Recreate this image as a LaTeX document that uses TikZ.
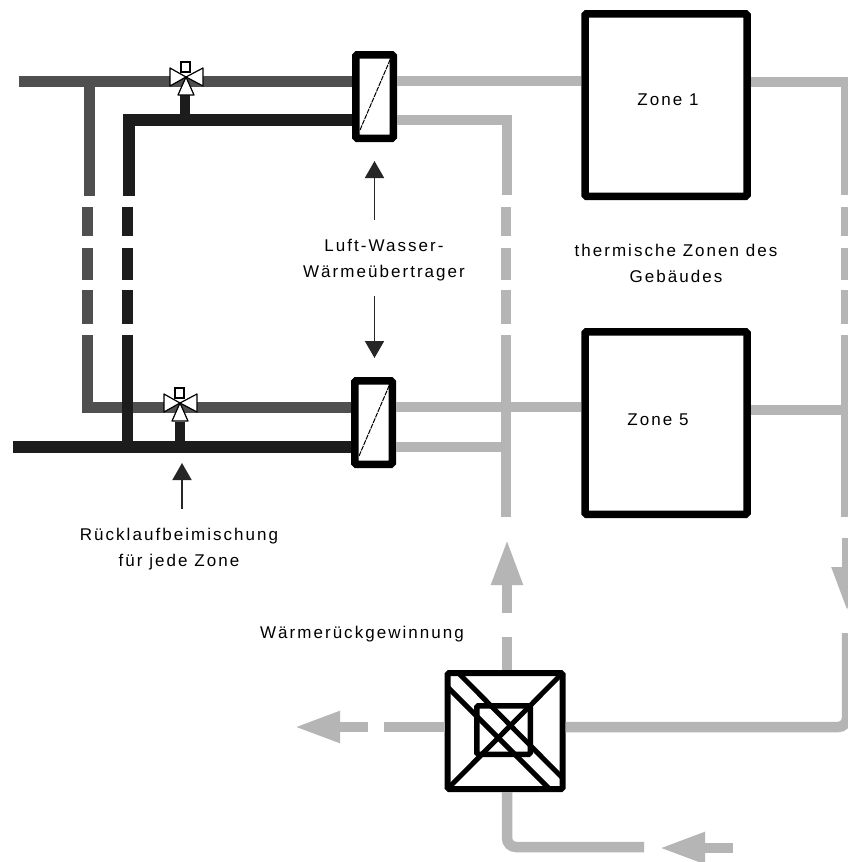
\documentclass[tikz,border=0pt]{standalone}
\usepackage{fontspec}
\setmainfont[LetterSpace=12]{Liberation Sans}
\usetikzlibrary{positioning,arrows.meta}

\definecolor{pipegreycol}{gray}{0.31}
\definecolor{pipeblackcol}{gray}{0.11}
\definecolor{pipelightcol}{gray}{0.71}

\tikzset{
  pipegrey/.style={draw=pipegreycol, line width=11pt},
  pipeblack/.style={draw=pipeblackcol, line width=11.5pt},
  pipelight/.style={draw=pipelightcol, line width=10.5pt},
  brokengrey/.style={dash pattern=on 29pt off 12pt on 32pt off 10pt on 34pt off 11pt on 400pt},
  brokenlight/.style={dash pattern=on 29pt off 12pt on 32pt off 10pt on 34pt off 11pt on 182pt off 400pt},
  box/.style={draw=black, rectangle, inner sep=0pt, rounded corners=1.5pt},
  hexchanger/.style={box, line width=7.5pt, minimum width=37.5pt, minimum height=83.5pt},
  zonebox/.style={box, line width=7.5pt, minimum width=162pt, minimum height=182.5pt},
  wrgline/.style={draw=black, line width=5pt, shorten <=3pt, shorten >=3pt},
  callout/.style={draw=black!85, line width=1.8pt, -{Triangle[length=17pt,width=19pt]}},
  lighttip/.style={-{Triangle[length=46pt,width=29pt]}},
  txt/.style={font=\fontsize{17}{26}\selectfont, align=center, inner sep=0pt},
  valve/.pic={
    \draw[fill=white, line width=1.2pt, line join=round] (-16,-9) -- (-16,9) -- (0,0) -- cycle;
    \draw[fill=white, line width=1.2pt, line join=round] (17,-9) -- (17,9) -- (0,0) -- cycle;
    \draw[fill=white, line width=1.2pt, line join=round] (-8,18) -- (8,18) -- (0,0) -- cycle;
    \draw[fill=white, line width=1.2pt] (-5,-15) rectangle (4,-5);
  }
}

\begin{document}
\begin{tikzpicture}[x=1pt, y=-1pt, >=Latex]
  \clip (0,0) rectangle (848,862);
  \fill[white] (0,0) rectangle (848,862);

  % boxes
  \node[hexchanger] (hxa) at (374.5,96.5) {};
  \node[hexchanger, below=235pt of hxa, xshift=-1pt] (hxb) {};
  \node[zonebox] (zone1) at (666,105) {};
  \node[zonebox, below=128pt of zone1] (zone5) {};
  \node[box, line width=6pt, minimum width=115pt, minimum height=116pt] (wrg) at (505,731) {};
  \node[box, line width=5.5pt, minimum width=53.5pt, minimum height=48.5pt] (wrgcore) at (503.5,730) {};

  % coordinates of the pipes
  \coordinate (flowa) at (19,81);
  \coordinate (flowb) at (82,407);
  \coordinate (backa) at (129,120);
  \coordinate (backb) at (13,447);
  \coordinate (riseg) at (89,81);
  \coordinate (ventl) at (507,120);
  \coordinate (ventr) at (846,82);
  \coordinate (valvea) at (186,77);
  \coordinate (valveb) at (180,403);

  % supply side
  \draw[pipegrey] (flowa) -- (hxa.west |- flowa);
  \draw[pipegrey] (riseg) -- (89,196);
  \draw[pipegrey, brokengrey] (87.5,207) -- (87.5,407) -- (hxb.west |- flowb);
  \draw[pipeblack] (hxa.west |- backa) -- (backa) -- (129,196);
  \draw[pipeblack, brokengrey] (127.5,207) -- (127.5,447);
  \draw[pipeblack] (backb) -- (hxb.west |- backb);
  \draw[pipeblack, line width=10pt] (valvea) ++(-1,18) -- (185,120);
  \draw[pipeblack, line width=10pt] (valveb) ++(0,19) -- (180,447);

  % air side
  \draw[pipelight] (hxa.east |- flowa) -- (zone1.west |- flowa);
  \draw[pipelight] (hxa.east |- ventl) -- (ventl) -- (507,195);
  \draw[pipelight, brokenlight] (506,207) -- (506,600);
  \draw[pipelight] (hxb.east |- flowb) -- (zone5.west |- flowb);
  \draw[pipelight] (hxb.east |- backb) -- (506,447);
  \draw[pipelight] (zone1.east |- ventr) -- (ventr) -- (846,195);
  \draw[pipelight, brokenlight] (846,207) -- (846,600);
  \draw[pipelight] (zone5.east |- 0,410) -- (846,410);

  % heat recovery
  \draw[pipelight] (507,670) -- (507,637);
  \draw[pipelight, lighttip] (507,613) -- (507,539);
  \draw[pipelight] (wrg.east |- 0,727) [rounded corners=9pt] -- (847,727) -- (847,633);
  \draw[pipelight, -{Triangle[length=45pt,width=28pt]}] (847,538) -- (847,612);
  \draw[pipelight] (wrg.west |- 0,727) -- (384,727);
  \draw[pipelight, lighttip] (368,727) -- (294,727);
  \draw[pipelight] (507,792) [rounded corners=9pt] -- (507,847) -- (644,847);
  \draw[pipelight, lighttip] (733,848) -- (659,848);

  \draw[wrgline] (wrg.north east) -- (wrg.south west);
  \draw[wrgline] ([yshift=-14pt]wrg.north west) -- ([xshift=-13pt]wrg.south east);
  \draw[wrgline] ([xshift=11pt]wrg.north west) -- ([yshift=11pt]wrg.south east);

  % inside the exchangers
  \draw[line width=1pt, dash pattern=on 5pt off 1pt] ([shift={(8pt,12pt)}]hxa.south west) -- ([shift={(-7pt,-9pt)}]hxa.north east);
  \draw[line width=1pt, dash pattern=on 5pt off 1pt] ([shift={(8pt,12pt)}]hxb.south west) -- ([shift={(-7pt,-9pt)}]hxb.north east);

  \pic at (valvea) {valve};
  \pic at (valveb) {valve};

  % texts
  \node[txt] (zone1txt) at (668,100) {Zone 1};
  \node[txt] (zone5txt) at (658,420) {Zone 5};
  \node[txt] (zonelabel) at (676,263.5) {thermische Zonen des\\Gebäudes};
  \node[txt] (hxlabel) at (384,260) {Luft-Wasser-\\Wärmeübertrager};
  \node[txt] (mixlabel) at (179,549.5) {Rücklaufbeimischung\\für jede Zone};
  \node[txt] (wrglabel) at (362,634) {Wärmerückgewinnung};

  \draw[callout, shorten <=19pt, shorten >=19pt] (hxa |- hxlabel.north) -- (hxa.south);
  \draw[callout, shorten <=15pt, shorten >=19pt] (hxa |- hxlabel.south) -- (hxa |- hxb.north);
  \coordinate (mixfoot) at (182,453);
  \draw[callout, shorten <=19pt, shorten >=10pt] (mixfoot |- mixlabel.north) -- (mixfoot);
\end{tikzpicture}
\end{document}
